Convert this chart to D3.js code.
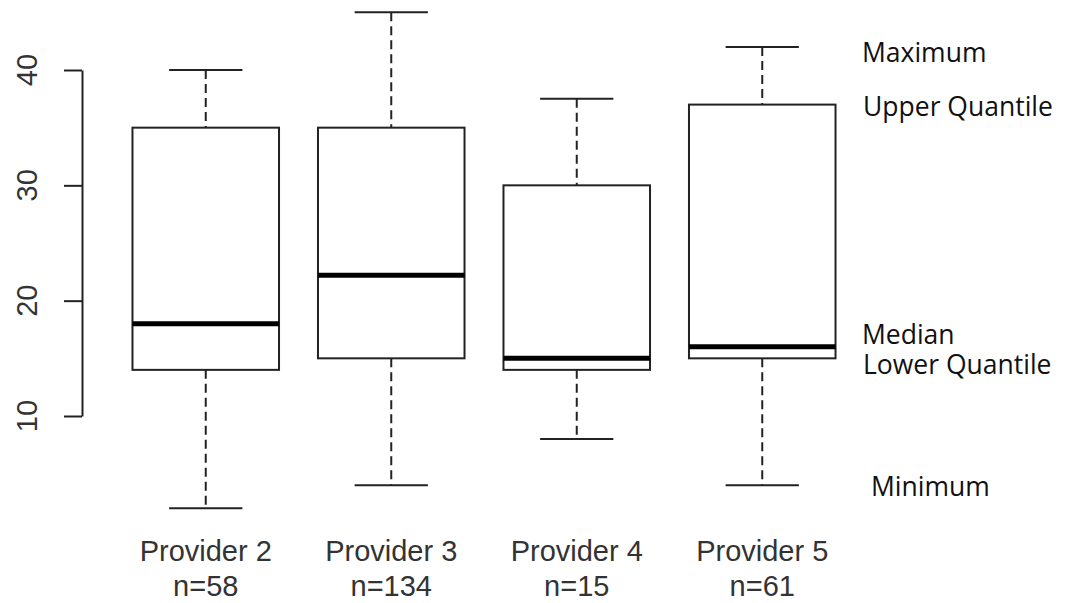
<!DOCTYPE html>
<html>
<head>
<meta charset="utf-8">
<script src="https://cdn.jsdelivr.net/npm/d3@7"></script>
<style>
  body { margin: 0; background: #fff; }
  .tick-label, .cat-label { font-family: "Liberation Sans", Arial, sans-serif; fill: #333; }
  .note { font-family: "Open Sans", sans-serif; fill: #111; }
</style>
</head>
<body>
<div id="canvas"></div>
<script>
"use strict";

/* Data */
let providers = ["Provider 2", "Provider 3", "Provider 4", "Provider 5"];
let counts = [58, 134, 15, 61];
let minimums = [2, 4, 8, 4];
let lowerQuartiles = [14, 15, 14, 15];
let medians = [18, 22.2, 15, 16];
let upperQuartiles = [35, 35, 30, 37];
let maximums = [40, 45, 37.5, 42];
let yTicks = [10, 20, 30, 40];
let noteLabels = ["Maximum", "Upper Quantile", "Median", "Lower Quantile", "Minimum"];
let noteValues = [41.6, 36.9, 17.1, 14.5, 3.9];
let noteOffsets = [0, 1, 0, 1, 9];

/* Drawing config */
let svgWidth = 1074;
let svgHeight = 603;

let svg = d3.select("#canvas")
  .append("svg")
  .attr("width", svgWidth)
  .attr("height", svgHeight);

let boxes = [];
for (let i = 0; i < providers.length; i = i + 1) {
  boxes.push({
    name: providers[i],
    n: counts[i],
    min: minimums[i],
    q1: lowerQuartiles[i],
    med: medians[i],
    q3: upperQuartiles[i],
    max: maximums[i]
  });
}

/* Scales */
let xScale = d3.scaleBand()
  .domain(providers)
  .range([113, 855])
  .paddingInner(0.21)
  .paddingOuter(0.105);

let yScale = d3.scaleLinear()
  .domain([10, 40])
  .range([416, 70]);

let bw = xScale.bandwidth();
let lineColor = "#222";

/* Y axis */
let yAxis = svg.append("g")
  .attr("transform", "translate(82,0)")
  .call(d3.axisLeft(yScale).tickValues(yTicks).tickSize(18).tickSizeOuter(0));

yAxis.select(".domain").attr("stroke", lineColor).attr("stroke-width", 2);
yAxis.selectAll(".tick line").attr("stroke", lineColor).attr("stroke-width", 2);
yAxis.selectAll(".tick text").remove();

svg.selectAll(".tick-label")
  .data(yTicks)
  .enter()
  .append("text")
  .attr("class", "tick-label")
  .attr("transform", d => "translate(37," + yScale(d) + ") rotate(-90)")
  .attr("text-anchor", "middle")
  .attr("font-size", "29px")
  .text(d => String(d));

/* Boxes */
let g = svg.selectAll(".box")
  .data(boxes)
  .enter()
  .append("g")
  .attr("class", "box");

let cx = d => xScale(d.name) + bw / 2;

// whiskers
g.append("line")
  .attr("x1", cx).attr("x2", cx)
  .attr("y1", d => yScale(d.max)).attr("y2", d => yScale(d.q3))
  .attr("stroke", lineColor).attr("stroke-width", 2)
  .attr("stroke-dasharray", "9,5");

g.append("line")
  .attr("x1", cx).attr("x2", cx)
  .attr("y1", d => yScale(d.q1)).attr("y2", d => yScale(d.min))
  .attr("stroke", lineColor).attr("stroke-width", 2)
  .attr("stroke-dasharray", "9,5");

// caps
g.append("line")
  .attr("x1", d => cx(d) - bw / 4).attr("x2", d => cx(d) + bw / 4)
  .attr("y1", d => yScale(d.max)).attr("y2", d => yScale(d.max))
  .attr("stroke", lineColor).attr("stroke-width", 2);

g.append("line")
  .attr("x1", d => cx(d) - bw / 4).attr("x2", d => cx(d) + bw / 4)
  .attr("y1", d => yScale(d.min)).attr("y2", d => yScale(d.min))
  .attr("stroke", lineColor).attr("stroke-width", 2);

// box
g.append("rect")
  .attr("x", d => xScale(d.name))
  .attr("y", d => yScale(d.q3))
  .attr("width", bw)
  .attr("height", d => yScale(d.q1) - yScale(d.q3))
  .attr("fill", "white")
  .attr("stroke", lineColor)
  .attr("stroke-width", 2);

// median
g.append("line")
  .attr("x1", d => xScale(d.name)).attr("x2", d => xScale(d.name) + bw)
  .attr("y1", d => yScale(d.med)).attr("y2", d => yScale(d.med))
  .attr("stroke", "black").attr("stroke-width", 5);

/* Category labels */
g.append("text")
  .attr("class", "cat-label")
  .attr("x", cx).attr("y", 561)
  .attr("text-anchor", "middle")
  .attr("font-size", "29px")
  .text(d => d.name);

g.append("text")
  .attr("class", "cat-label")
  .attr("x", cx).attr("y", 596)
  .attr("text-anchor", "middle")
  .attr("font-size", "29px")
  .text(d => "n=" + d.n);

/* Annotations */
noteLabels.forEach((label, i) => {
  svg.append("text")
    .attr("class", "note")
    .attr("x", 862 + noteOffsets[i])
    .attr("y", yScale(noteValues[i]))
    .attr("dominant-baseline", "central")
    .attr("font-size", "26.5px")
    .text(label);
});
</script>
</body>
</html>
